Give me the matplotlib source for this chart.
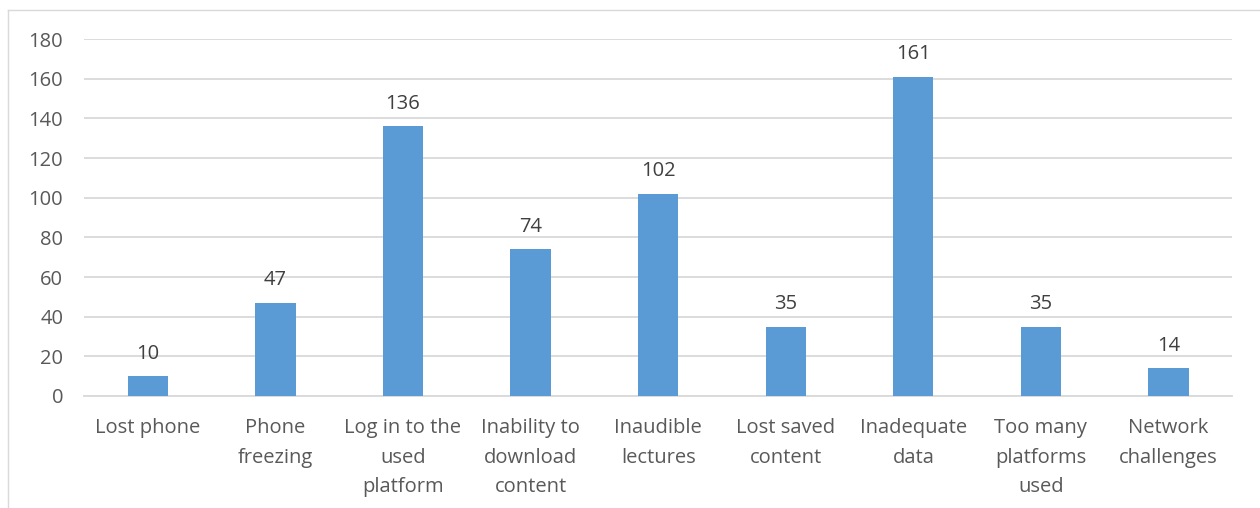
import matplotlib.pyplot as plt
import numpy as np

categories = ['Lost phone', 'Phone\nfreezing', 'Log in to the\nused\nplatform',
              'Inability to\ndownload\ncontent', 'Inaudible\nlectures', 'Lost saved\ncontent',
              'Inadequate\ndata', 'Too many\nplatforms\nused', 'Network\nchallenges']
counts = [10, 47, 136, 74, 102, 35, 161, 35, 14]
yticks = [0, 20, 40, 60, 80, 100, 120, 140, 160, 180]

plt.rcParams['font.family'] = ['Open Sans', 'DejaVu Sans']
txt = '#595959'
fs = 14.5

fig = plt.figure(figsize=(12.6, 5.08), dpi=100)
ax = fig.add_axes([0.0667, 0.2205, 0.9113, 0.7025])

x = np.arange(len(categories))
bars = ax.bar(x, counts, width=0.315, color='#5B9BD5', zorder=3)

for b, v in zip(bars, counts):
    ax.annotate(str(v), (b.get_x() + b.get_width() / 2, v), xytext=(0, 9),
                textcoords='offset points', ha='center', va='bottom',
                fontsize=fs, color='#404040')

ax.set_xlim(-0.5, len(categories) - 0.5)
ax.set_ylim(0, 180)
ax.set_yticks(yticks)
ax.set_xticks(x)
ax.set_xticklabels(categories, linespacing=1.63)
ax.tick_params(axis='y', length=0, pad=15, labelsize=fs, labelcolor=txt)
ax.tick_params(axis='x', length=0, pad=16, labelsize=fs, labelcolor=txt)
ax.grid(axis='y', color='#D9D9D9', linewidth=1.3, zorder=0)
for s in ['top', 'right', 'left']:
    ax.spines[s].set_visible(False)
ax.spines['bottom'].set_color('#D9D9D9')
ax.spines['bottom'].set_linewidth(1.3)

# outer chart border (only top and left visible in crop)
fig.add_artist(plt.Line2D([8 / 1260, 1.0], [1 - 10 / 508, 1 - 10 / 508],
                          transform=fig.transFigure, color='#D9D9D9', lw=1))
fig.add_artist(plt.Line2D([8 / 1260, 8 / 1260], [0, 1 - 10 / 508],
                          transform=fig.transFigure, color='#D9D9D9', lw=1))

fig.savefig('out.png', dpi=100)
